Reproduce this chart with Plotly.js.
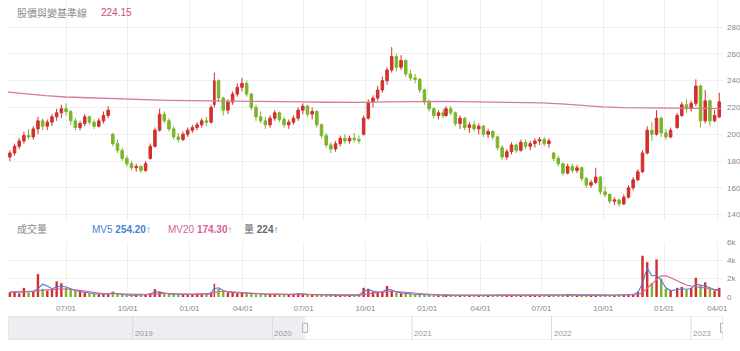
<!DOCTYPE html>
<html>
<head>
<meta charset="utf-8">
<script src="https://cdn.plot.ly/plotly-3.0.1.min.js"></script>
<style>html,body{margin:0;padding:0;background:#fff}#chart{width:740px;height:351px}</style>
</head>
<body>
<div id="chart"></div>
<script>
// ---- Data (weekly samples) ----
const skipWeeks = ['2021-02-10','2022-02-02','2023-01-18','2023-01-25'];
const holidays = ['2021-02-08','2021-02-09','2021-02-10','2021-02-11','2021-02-12','2021-02-15','2021-02-16',
  '2022-01-27','2022-01-28','2022-01-31','2022-02-01','2022-02-02','2022-02-03','2022-02-04',
  '2023-01-18','2023-01-19','2023-01-20','2023-01-23','2023-01-24','2023-01-25','2023-01-26','2023-01-27'];

const openP = [
183,186,191,195,199,198,204,210,206,209,213,216,
219,217,210,205,208,213,209,206,210,214,200,193,188,182,
178,175,176,173,182,191,203,215,210,204,198,196,200,
203,205,207,210,209,222,240,227,218,224,230,235,
238,230,220,213,210,207,212,216,211,207,209,212,218,
221,215,217,207,199,192,189,193,197,195,197,196,200,
212,224,227,233,240,248,258,250,255,245,242,241,233,
224,219,214,216,214,219,216,208,212,205,207,204,
206,200,202,198,190,183,187,192,188,194,191,193,195,
196,193,186,182,178,171,176,173,175,167,162,164,168,
157,155,150,151,148,153,160,166,172,186,203,200,212,
201,198,205,214,222,219,223,236,210,225,210,213];
const highP = [
188,193,197,202,204,206,213,212,211,215,219,222,
223,218,212,210,215,214,211,212,217,221,201,196,190,184,
180,178,177,180,193,205,219,217,212,206,201,202,205,
207,209,212,213,222,246,241,228,226,232,238,242,
240,231,222,217,213,214,218,217,213,211,214,220,223,
222,220,218,208,201,194,195,199,200,199,201,199,214,
226,229,236,243,250,265,260,259,256,248,245,242,234,
226,220,218,219,221,221,217,214,213,209,210,208,
207,204,203,199,192,189,194,193,196,196,195,197,198,
198,197,187,184,179,178,178,177,176,168,166,175,169,
161,156,153,152,155,162,168,174,188,206,209,218,213,
204,205,216,224,226,225,241,237,233,226,218,231];
const lowP = [
180,184,189,193,196,196,200,203,203,206,210,212,
214,207,203,203,206,207,204,205,208,212,191,186,180,176,
173,172,171,172,181,190,202,208,202,196,194,195,198,
201,203,205,206,208,220,224,214,215,222,228,232,
228,218,210,208,204,205,210,209,205,204,207,210,215,
213,211,205,197,190,186,187,191,193,193,194,193,199,
211,220,225,231,237,246,247,248,243,240,238,231,222,
217,212,211,212,213,214,206,204,203,201,202,200,
198,197,196,188,181,181,185,186,187,189,188,190,192,
191,190,180,176,169,170,171,171,165,160,160,163,155,
153,148,147,146,147,152,158,165,171,185,195,199,198,
196,197,204,213,216,217,221,205,208,206,209,212];
const closeP = [
186,191,195,199,198,204,210,206,209,213,216,219,
217,210,205,208,213,209,206,210,214,218,193,188,182,178,
175,176,173,178,191,203,215,210,204,198,196,200,203,
205,207,210,209,220,240,227,218,224,230,235,238,
230,220,213,210,207,212,216,211,207,209,212,218,221,
215,217,207,199,192,189,193,197,195,197,196,195,212,
224,227,233,240,248,258,250,255,245,242,241,233,224,
219,214,216,214,219,216,208,212,205,207,204,206,
200,202,198,190,183,187,192,188,194,191,193,195,196,
193,195,182,178,171,176,173,175,167,162,164,168,157,
155,150,151,148,153,160,166,172,186,203,200,212,201,
198,203,214,222,219,223,236,210,225,210,214,224.15];

const volume = [
500,600,400,1000,500,600,2500,900,700,800,1700,1500,
1000,900,700,600,500,400,350,300,300,350,600,300,250,200,
200,200,250,250,400,850,600,400,300,300,250,300,300,
300,350,300,350,500,1450,900,600,500,450,400,450,
400,350,300,300,300,300,300,250,250,300,300,400,350,
300,250,250,250,200,250,200,200,200,200,200,250,1000,
900,600,500,600,1200,700,500,400,350,300,300,250,250,
220,200,180,200,230,200,180,200,220,190,170,200,
200,180,220,200,230,210,190,200,180,170,190,200,180,
190,200,220,250,210,300,200,190,250,200,180,200,210,
200,190,200,210,220,250,300,600,4500,3800,1500,4100,2000,
900,700,1000,1100,800,1000,2100,1300,1600,900,700,1000];
const mv5 = [
500,520,500,600,550,600,900,1400,1200,900,1100,1200,
1100,900,700,600,500,400,350,320,300,330,450,350,250,220,
200,200,220,240,350,550,550,420,320,300,280,290,300,
300,320,310,330,420,900,1000,700,550,480,430,440,
410,360,320,300,300,300,300,270,260,280,300,350,350,
300,270,250,250,220,230,210,200,200,200,200,230,600,
800,650,550,580,850,750,550,450,380,320,300,270,250,
220,200,190,200,210,200,190,200,210,190,180,190,
190,190,200,200,210,200,195,195,185,180,185,190,185,
190,195,210,230,220,260,220,200,230,210,190,195,200,
200,195,200,205,210,230,270,450,1500,3200,2300,2400,1800,
1000,700,800,900,850,900,1400,1300,1200,1000,800,800];
const mv20 = [
550,560,550,580,560,560,650,750,800,820,850,880,
880,850,800,720,650,550,480,420,380,360,370,350,320,290,
260,240,230,230,260,320,380,400,380,350,320,300,300,
300,310,310,320,340,500,600,620,600,560,500,460,
430,400,370,340,320,310,300,290,280,280,290,300,310,
300,290,270,260,250,240,230,220,210,210,210,210,300,
400,460,500,530,600,620,600,560,500,440,380,330,290,
260,240,225,215,210,205,200,200,200,200,195,195,
195,195,195,200,200,200,200,198,195,190,190,190,190,
190,192,195,200,205,210,215,215,215,210,205,200,200,
200,200,200,200,200,205,215,250,500,1000,1500,1900,2300,
2300,2100,1800,1500,1300,1200,1100,1050,1000,900,750,650];

const baseDates = ['2020-04-06','2020-05-04','2020-06-01','2020-07-01','2020-08-03','2020-09-01','2020-10-05','2020-11-02','2020-12-01',
 '2021-01-04','2021-02-01','2021-03-01','2021-04-01','2021-05-03','2021-06-01','2021-07-01','2021-08-02','2021-09-01','2021-10-01','2021-11-01','2021-12-01',
 '2022-01-03','2022-02-07','2022-03-01','2022-04-01','2022-05-02','2022-06-01','2022-07-01','2022-08-01','2022-09-01','2022-10-03','2022-11-01','2022-12-01',
 '2023-01-03','2023-02-01','2023-03-01','2023-04-07'];
const baseValues = [231.5,230.0,228.8,227.8,227.2,226.6,226.0,225.6,225.3,
 225.1,225.0,225.0,225.0,224.8,224.5,224.2,223.9,223.7,223.8,224.2,224.5,
 224.6,224.5,224.3,224.1,223.9,223.6,223.4,222.6,221.3,220.4,219.8,219.6,
 219.4,219.3,219.2,219.1];

const tickDates = ['2020-07-01','2020-10-01','2021-01-01','2021-04-01','2021-07-01','2021-10-01','2022-01-03','2022-04-01','2022-07-01','2022-10-03','2023-01-02','2023-04-03'];
const tickLabels = ['07/01','10/01','01/01','04/01','07/01','10/01','01/01','04/01','07/01','10/01','01/01','04/01'];
const priceTicks = [140,160,180,200,220,240,260,280];
const volTicks = [0,2000,4000,6000];
const volTickLabels = ['0','2k','4k','6k'];
const sliderYears = ['2019','2020','2021','2022','2023'];

// weekly dates (time index)
const weekDates = [];
for (let t = Date.UTC(2020,3,8); t <= Date.UTC(2023,3,5); t += 7*86400000) {
  const s = new Date(t).toISOString().slice(0,10);
  if (!skipWeeks.includes(s)) weekDates.push(s);
}
if (weekDates.length !== closeP.length) console.error('length mismatch', weekDates.length, closeP.length);

const UP = '#d2302c', DOWN = '#7bb52a';
const volColors = closeP.map((c,i) => c >= openP[i] ? UP : DOWN);
const FONT = 'Arial, "Liberation Sans", "Noto Sans CJK TC", sans-serif';
const rb = [{bounds:['sat','mon']},{values:holidays}];
const xRange = ['2020-04-06','2023-04-11'];
const sliderStart = '2018-02-08', sliderEnd = '2023-03-26', selStart = '2020-03-27';

const traces = [
  {type:'candlestick', x:weekDates, open:openP, high:highP, low:lowP, close:closeP,
   xaxis:'x', yaxis:'y', whiskerwidth:0,
   increasing:{line:{color:UP,width:1}, fillcolor:UP},
   decreasing:{line:{color:DOWN,width:1}, fillcolor:DOWN}, hoverinfo:'skip'},
  {type:'scatter', mode:'lines', x:baseDates, y:baseValues, xaxis:'x', yaxis:'y',
   line:{color:'#d77aa0', width:1.3}, hoverinfo:'skip'},
  {type:'bar', x:weekDates, y:volume, xaxis:'x2', yaxis:'y2', marker:{color:volColors, line:{width:0}},
   width:2.6*86400000, hoverinfo:'skip'},
  {type:'scatter', mode:'lines', x:weekDates, y:mv5, xaxis:'x2', yaxis:'y2',
   line:{color:'#4a7fd4', width:1.1}, hoverinfo:'skip'},
  {type:'scatter', mode:'lines', x:weekDates, y:mv20, xaxis:'x2', yaxis:'y2',
   line:{color:'#d6609a', width:1.1}, hoverinfo:'skip'}
];

const W = 740, H = 351;
const px = v => v / W, py = v => 1 - v / H;
const gridC = '#efefef';

const shapes = [
  {type:'rect', xref:'x3', yref:'y3', x0:sliderStart, x1:selStart, y0:0, y1:1, fillcolor:'#eceef1', line:{width:0}, layer:'below'},
  {type:'rect', xref:'x3', yref:'y3', x0:sliderStart, x1:sliderEnd, y0:0, y1:1, fillcolor:'rgba(0,0,0,0)', line:{color:'#dddddd', width:1}},
];
sliderYears.forEach(y => shapes.push({type:'line', xref:'x3', yref:'y3', x0:y+'-01-01', x1:y+'-01-01', y0:0, y1:1, line:{color:'#dadada', width:1}}));
[selStart, sliderEnd].forEach(a => shapes.push({type:'rect', xref:'x3', yref:'y3', xsizemode:'pixel', xanchor:a, x0:-2.5, x1:2.5,
  y0:0.32, y1:0.7, fillcolor:'#f7f7f7', line:{color:'#b0b0b0', width:1}}));

const annotations = [
  {xref:'paper', yref:'paper', x:px(15), y:py(12.5), xanchor:'left', yanchor:'middle', showarrow:false,
   text:'股價與變基準線', font:{family:FONT, size:10, color:'#8a8a8a'}},
  {xref:'paper', yref:'paper', x:px(99), y:py(12.5), xanchor:'left', yanchor:'middle', showarrow:false,
   text:'224.15', font:{family:FONT, size:10, color:'#cc4d85'}},
  {xref:'paper', yref:'paper', x:px(15), y:py(229), xanchor:'left', yanchor:'middle', showarrow:false,
   text:'成交量', font:{family:FONT, size:10, color:'#8a8a8a'}},
  {xref:'paper', yref:'paper', x:px(90), y:py(229), xanchor:'left', yanchor:'middle', showarrow:false,
   text:'MV5 <b>254.20</b>↑', font:{family:FONT, size:10, color:'#4a7fd4'}},
  {xref:'paper', yref:'paper', x:px(166), y:py(229), xanchor:'left', yanchor:'middle', showarrow:false,
   text:'MV20 <b>174.30</b>↑', font:{family:FONT, size:10, color:'#d6609a'}},
  {xref:'paper', yref:'paper', x:px(242), y:py(229), xanchor:'left', yanchor:'middle', showarrow:false,
   text:'量 <b>224</b>↑', font:{family:FONT, size:10, color:'#666666'}}
];
sliderYears.forEach(y => annotations.push({xref:'x3', yref:'y3', x:y+'-01-01', y:0, xanchor:'left', yanchor:'bottom',
  xshift:0, yshift:0, showarrow:false, text:y, font:{family:FONT, size:8, color:'#999999'}}));

const xCommon = {type:'date', range:xRange, rangebreaks:rb, domain:[px(8), px(723)],
  tickmode:'array', tickvals:tickDates, ticktext:tickLabels, showgrid:true, gridcolor:gridC, gridwidth:1,
  zeroline:false, showline:false, ticks:'', fixedrange:true};

const layout = {
  width:W, height:H, margin:{l:0, r:0, t:0, b:0},
  paper_bgcolor:'#ffffff', plot_bgcolor:'#ffffff', showlegend:false, hovermode:false,
  boxgap:0.45,
  font:{family:FONT, size:8, color:'#888888'},
  xaxis: Object.assign({}, xCommon, {anchor:'y', showticklabels:false, rangeslider:{visible:false}}),
  xaxis2: Object.assign({}, xCommon, {anchor:'y2', matches:'x', showticklabels:true, ticklabelstandoff:5,
    tickfont:{family:FONT, size:8, color:'#888888'}}),
  yaxis: {domain:[py(220), 1], range:[136, 300.2], side:'right', anchor:'x', tickmode:'array', tickvals:priceTicks,
    showgrid:true, gridcolor:gridC, zeroline:false, showline:false, ticks:'', ticklabelstandoff:3,
    tickfont:{family:FONT, size:8, color:'#888888'}, fixedrange:true},
  yaxis2: {domain:[py(297), py(242)], range:[0, 6000], side:'right', anchor:'x2', tickmode:'array', tickvals:volTicks, ticktext:volTickLabels,
    showgrid:true, gridcolor:gridC, zeroline:false, showline:false, ticks:'', ticklabelstandoff:3,
    tickfont:{family:FONT, size:8, color:'#888888'}, fixedrange:true},
  xaxis3: {type:'date', range:[sliderStart, sliderEnd], domain:[px(8), px(723)], anchor:'y3', visible:false, fixedrange:true},
  yaxis3: {domain:[py(340), py(316)], range:[0,1], anchor:'x3', visible:false, fixedrange:true},
  shapes, annotations
};

Plotly.newPlot('chart', traces, layout, {staticPlot:true, displayModeBar:false});
</script>
</body>
</html>
